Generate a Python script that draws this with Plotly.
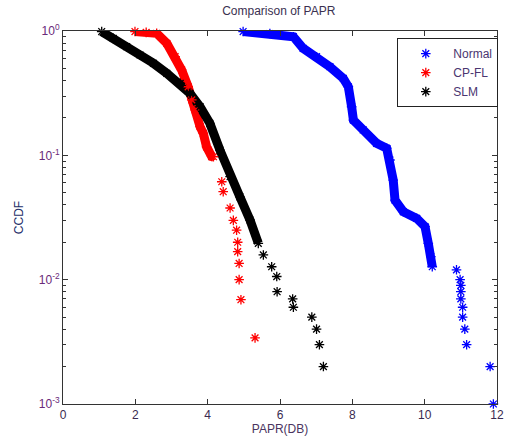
import plotly.graph_objects as go

# CCDF of PAPR.
# "band" = the dense part of each curve, "tail" = the separate points at the end.

normal_band_x = [4.98, 5.72, 6.37, 6.64, 7.01, 7.38, 7.75, 7.89, 7.98, 8.03, 8.30, 8.67,
                 8.95, 9.04, 9.13, 9.18, 9.41, 9.78, 10.01, 10.10, 10.17, 10.21]
normal_band_y = [0.99, 0.955, 0.90, 0.726, 0.621, 0.516, 0.416, 0.356, 0.246, 0.192, 0.160, 0.125,
                 0.114, 0.0917, 0.0633, 0.0437, 0.0352, 0.0311, 0.0267, 0.0196, 0.0153, 0.0127]
normal_tail_x = [10.88, 10.98, 11.00, 11.00, 11.00, 11.05, 11.05, 11.11, 11.16, 11.81, 11.90]
normal_tail_y = [0.012, 0.010, 0.009, 0.008, 0.007, 0.006, 0.005, 0.004, 0.003, 0.002, 0.001]

cpfl_band_x = [1.99, 2.30, 2.59, 2.87, 3.10, 3.28, 3.46, 3.56, 3.65, 3.79, 3.88, 3.97, 4.11, 4.16]
cpfl_band_y = [0.99, 0.975, 0.958, 0.796, 0.621, 0.486, 0.356, 0.279, 0.232, 0.170, 0.150, 0.117, 0.098, 0.0974]
cpfl_tail_x = [4.39, 4.43, 4.62, 4.71, 4.80, 4.83, 4.83, 4.87, 4.87, 4.92, 5.31]
cpfl_tail_y = [0.0613, 0.051, 0.0377, 0.030, 0.025, 0.020, 0.0168, 0.0135, 0.010, 0.0069, 0.0034]

slm_band_x = [1.07, 1.39, 1.76, 2.13, 2.50, 2.87, 3.24, 3.51, 3.79, 4.06, 4.34, 4.62, 4.89, 5.17, 5.40]
slm_band_y = [0.99, 0.873, 0.748, 0.641, 0.550, 0.457, 0.379, 0.315, 0.246, 0.181, 0.11, 0.0673, 0.0464, 0.0302, 0.0196]
slm_tail_x = [5.54, 5.77, 5.91, 5.92, 6.35, 6.37, 6.88, 7.01, 7.09, 7.20]
slm_tail_y = [0.0158, 0.0127, 0.0106, 0.008, 0.007, 0.006, 0.005, 0.004, 0.003, 0.002]

series = [
    ('Normal', '#0000ff', normal_band_x, normal_band_y, normal_tail_x, normal_tail_y),
    ('CP-FL', '#ff0000', cpfl_band_x, cpfl_band_y, cpfl_tail_x, cpfl_tail_y),
    ('SLM', '#000000', slm_band_x, slm_band_y, slm_tail_x, slm_tail_y),
]

fig = go.Figure()

# thick bands first so the asterisks sit on top
for name, col, bx, by, tx, ty in series:
    fig.add_trace(go.Scatter(x=bx, y=by, mode='lines', showlegend=False, hoverinfo='skip',
                             line=dict(color=col, width=9), cliponaxis=False))

for name, col, bx, by, tx, ty in series:
    fig.add_trace(go.Scatter(x=bx + tx, y=by + ty, mode='markers', name=name, cliponaxis=False,
                             marker=dict(symbol='asterisk-open', size=8, color=col,
                                         line=dict(color=col, width=1.3))))

tickcol = '#6a2a7a'
minor_vals = [m * 10 ** e for e in (-3, -2, -1) for m in range(2, 10)]

fig.update_layout(
    width=505, height=443,
    margin=dict(l=63, r=8, t=31, b=39, autoexpand=False),
    paper_bgcolor='white', plot_bgcolor='white',
    font=dict(family='Liberation Sans, Arial, sans-serif', size=12, color='#3a3050'),
    title=dict(text='Comparison of PAPR', x=0.552, xanchor='center', y=0.985, yanchor='top',
               font=dict(size=12, color='#3a3050')),
    legend=dict(x=1.003, xanchor='right', y=0.981, yanchor='top', bgcolor='white',
                bordercolor='#222222', borderwidth=1, font=dict(size=12, color='#4a3570'),
                tracegroupgap=0, itemwidth=45),
)

fig.update_xaxes(
    range=[0, 12], tickvals=[0, 2, 4, 6, 8, 10, 12], ticks='inside', ticklen=5,
    showgrid=False, zeroline=False, showline=True, linecolor='#333333', linewidth=1,
    mirror='allticks', tickcolor='#333333', tickfont=dict(size=12, color='#3a2a50'),
    automargin=False,
    title=dict(text='PAPR(DB)', standoff=2, font=dict(size=12, color='#4a3560')),
)

fig.update_yaxes(
    type='log', range=[-3, 0], tickvals=[1, 0.1, 0.01, 0.001],
    ticktext=['10<sup>0</sup>', '10<sup>-1</sup>', '10<sup>-2</sup>', '10<sup>-3</sup>'],
    ticks='inside', ticklen=5, tickcolor='#333333',
    minor=dict(tickvals=minor_vals, ticks='inside', ticklen=3, tickcolor='#333333'),
    showgrid=False, zeroline=False, showline=True, linecolor='#333333', linewidth=1,
    mirror='allticks', tickfont=dict(size=12, color=tickcol), automargin=False,
    title=dict(text='CCDF', standoff=12, font=dict(size=12, color='#25306a')),
)

# the page body has an 8px default margin, drop it so the figure sits at 0,0
fig.write_html("out.html", config={'displayModeBar': False},
               post_script="document.body.style.margin='0';")
